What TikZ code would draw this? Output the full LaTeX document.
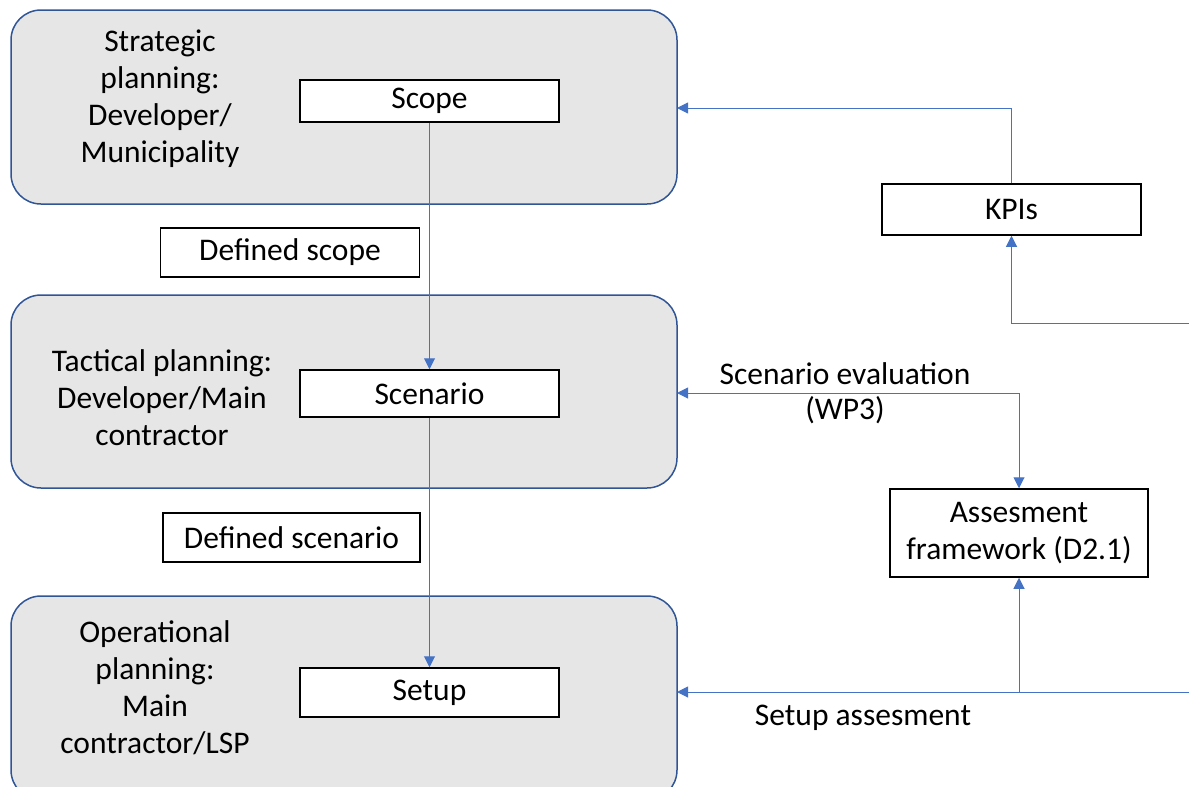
\documentclass[tikz,border=0pt]{standalone}
\usepackage{fontspec}
\setmainfont{Carlito}
\usetikzlibrary{arrows.meta}
\definecolor{boxfill}{HTML}{E7E6E6}
\definecolor{boxedge}{HTML}{2F5597}
\definecolor{conn}{HTML}{4472C4}
\tikzset{
  phase/.style={draw=boxedge, fill=boxfill, line width=1.5pt, rounded corners=30pt},
  item/.style={draw=black, fill=white, line width=1.5pt, minimum width=259pt, inner sep=0pt, font=\fontsize{31.5}{37}\selectfont, align=center},
  lbl/.style={font=\fontsize{31.5}{37}\selectfont, align=center, inner sep=0pt},
  link/.style={draw=conn, line width=1pt, -{Triangle[width=11pt,length=11pt]}},
  plain/.style={draw=conn, line width=1pt},
}
\begin{document}
\begin{tikzpicture}[x=1pt,y=-1pt]
\useasboundingbox (0,0) rectangle (1189,787);
\begin{scope}
\clip (0,0) rectangle (1189,787);
\draw[phase] (11,10) rectangle (677,204);
\draw[phase] (11,295) rectangle (677,488);
\draw[phase] (11,596) rectangle (677,800);
\end{scope}
\coordinate (p1r) at (677,108);
\coordinate (p2r) at (677,393);
\coordinate (p3r) at (677,692);
\node[lbl] (t1) at (160,99) {Strategic\\planning:\\Developer/\\Municipality};
\node[lbl] (t2) at (162,398) {Tactical planning:\\Developer/Main\\contractor};
\node[lbl] (t3) at (155,688) {Operational\\planning:\\Main\\contractor/LSP};
\node[item, minimum height=42pt] (scope) at (429.5,101) {Scope};
\node[item, minimum height=49pt] (dscope) at (290,252.5) {Defined scope};
\node[item, minimum height=47pt] (scen) at (429.5,393.5) {Scenario};
\node[item, minimum height=49pt, minimum width=257pt] (dscen) at (291.5,537.5) {Defined scenario};
\node[item, minimum height=49pt] (setup) at (429.5,692.5) {Setup};
\node[item, minimum height=51pt] (kpi) at (1011.5,209.5) {KPIs};
\node[item, minimum height=88pt, minimum width=258pt] (ass) at (1019,533) {Assesment\\framework (D2.1)};
\coordinate (r1) at (1189,323);
\coordinate (r2) at (1189,692);
\coordinate (j1) at (1019,692);
\node[lbl] (se) at (845,374) {Scenario evaluation};
\node[lbl] (wp) at (845,410) {(WP3)};
\node[lbl] (sa) at (863,718) {Setup assesment};
\draw[link] (scope) -- (scen);
\draw[link] (scen) -- (setup);
\draw[link] (kpi.north) |- (p1r);
\draw[link] (r1) -| (kpi.south);
\draw[link, {Triangle[width=11pt,length=11pt]}-{Triangle[width=11pt,length=11pt]}] (p2r) -| (ass.north);
\draw[link] (r2) -- (p3r);
\draw[link] (j1) -- (ass.south);
\end{tikzpicture}
\end{document}
